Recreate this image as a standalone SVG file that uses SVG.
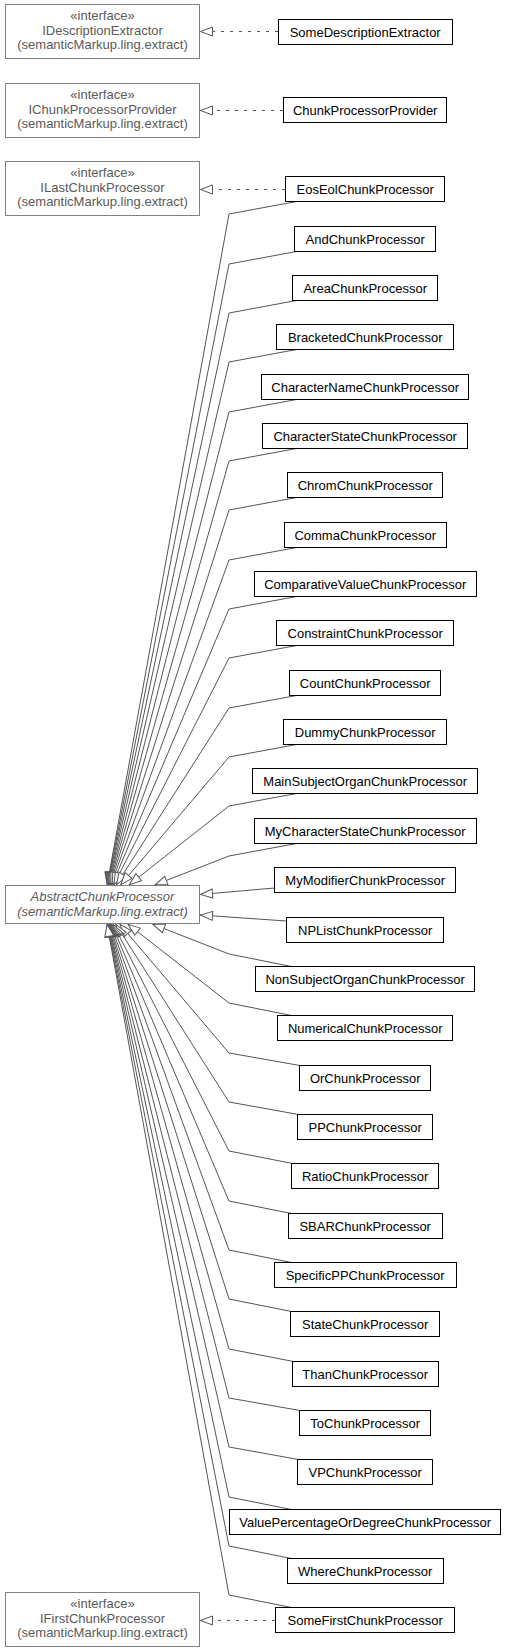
<svg xmlns="http://www.w3.org/2000/svg" width="507" height="1652" viewBox="0 0 507 1652">
<style>
.bg{fill:#ffffff}
.cls rect{fill:#ffffff;stroke:#000000;stroke-width:1}
.cls text{font-family:"Liberation Sans",Arial,sans-serif;font-size:13px;fill:#000000;text-anchor:middle}
.ifc rect{fill:#ffffff;stroke:#808080;stroke-width:1}
.ifc text{font-family:"Liberation Sans",Arial,sans-serif;font-size:13px;fill:#5a5a5a;text-anchor:middle}
.ifc text.it{font-style:italic}
.gen{fill:none;stroke:#555555;stroke-width:1;marker-end:url(#tri)}
.real{fill:none;stroke:#555555;stroke-width:1;stroke-dasharray:3,6;marker-end:url(#tri)}
</style>
<defs>
<marker id="tri" viewBox="0 0 13 10" refX="13" refY="5" markerWidth="13" markerHeight="10" markerUnits="userSpaceOnUse" orient="auto" overflow="visible">
<path d="M0.5,0.5 L12.5,5 L0.5,9.5 Z" fill="#ffffff" stroke="#555555" stroke-width="1"/>
</marker>
</defs>
<rect class="bg" x="0" y="0" width="507" height="1652"/>

<g id="connectors">
<path class="real" d="M278,31.5 L200,31.5"/>
<path class="real" d="M283,110.5 L200,110.5"/>
<path class="real" d="M285,189.5 L200,189.5"/>
<path class="real" d="M275,1620.5 L200,1620.5"/>

<path class="gen" d="M296.5,201.5 L229,214 L107.1,885"/>
<path class="gen" d="M296.5,251.5 L229,264 L107.4,885"/>
<path class="gen" d="M296.5,300.5 L229,313 L107.7,885"/>
<path class="gen" d="M296.5,349.5 L229,362 L108.1,885"/>
<path class="gen" d="M296.5,399.5 L229,412 L108.6,885"/>
<path class="gen" d="M296.5,448.5 L229,461 L109.2,885"/>
<path class="gen" d="M296.5,497.5 L229,510 L109.9,885"/>
<path class="gen" d="M296.5,547.5 L229,560 L110.8,885"/>
<path class="gen" d="M296.5,596.5 L229,609 L112,885"/>
<path class="gen" d="M296.5,645.5 L229,658 L113.7,885"/>
<path class="gen" d="M296.5,695.5 L229,708 L116.2,885"/>
<path class="gen" d="M296.5,744.5 L229,757 L120.5,885"/>
<path class="gen" d="M296.5,793.5 L229,806 L128.9,885"/>
<path class="gen" d="M296.5,843.5 L229,856 L154.7,885"/>
<path class="gen" d="M274.5,888 L200,894.5"/>
<path class="gen" d="M286.5,921 L200,915"/>
<path class="gen" d="M291.5,966.5 L229,954 L152.3,924"/>
<path class="gen" d="M291.5,1015.5 L229,1003 L127.7,924"/>
<path class="gen" d="M300,1065.5 L229,1053 L119.7,924"/>
<path class="gen" d="M298.5,1114.5 L229,1102 L115.6,924"/>
<path class="gen" d="M292.5,1163.5 L229,1151 L113.2,924"/>
<path class="gen" d="M291.5,1213.5 L229,1201 L111.6,924"/>
<path class="gen" d="M291.5,1262.5 L229,1250 L110.4,924"/>
<path class="gen" d="M291.5,1311.5 L229,1299 L109.5,924"/>
<path class="gen" d="M293.5,1361.5 L229,1349 L108.9,924"/>
<path class="gen" d="M300,1410.5 L229,1398 L108.3,924"/>
<path class="gen" d="M298.5,1459.5 L229,1447 L107.9,924"/>
<path class="gen" d="M291.5,1509.5 L229,1497 L107.5,924"/>
<path class="gen" d="M291.5,1558.5 L229,1546 L107.2,924"/>
<path class="gen" d="M291.5,1607.5 L229,1595 L107,924"/>
</g>

<g id="IDescriptionExtractor" class="ifc"><rect x="5.5" y="4.5" width="194" height="54"/><text x="102.5" y="20">«interface»</text><text x="102.5" y="34.5">IDescriptionExtractor</text><text x="102.5" y="49">(semanticMarkup.ling.extract)</text></g>
<g id="IChunkProcessorProvider" class="ifc"><rect x="5.5" y="83.5" width="194" height="54"/><text x="102.5" y="99">«interface»</text><text x="102.5" y="113.5">IChunkProcessorProvider</text><text x="102.5" y="128">(semanticMarkup.ling.extract)</text></g>
<g id="ILastChunkProcessor" class="ifc"><rect x="5.5" y="161.5" width="194" height="54"/><text x="102.5" y="177">«interface»</text><text x="102.5" y="191.5">ILastChunkProcessor</text><text x="102.5" y="206">(semanticMarkup.ling.extract)</text></g>
<g id="AbstractChunkProcessor" class="ifc"><rect x="5.5" y="885.5" width="194" height="38"/><text class="it" x="102.5" y="901">AbstractChunkProcessor</text><text class="it" x="102.5" y="915.5">(semanticMarkup.ling.extract)</text></g>
<g id="IFirstChunkProcessor" class="ifc"><rect x="5.5" y="1592.5" width="194" height="54"/><text x="102.5" y="1608">«interface»</text><text x="102.5" y="1622.5">IFirstChunkProcessor</text><text x="102.5" y="1637">(semanticMarkup.ling.extract)</text></g>

<g id="SomeDescriptionExtractor" class="cls"><rect x="278.5" y="19.5" width="174" height="25"/><text x="365.2" y="36.5">SomeDescriptionExtractor</text></g>
<g id="ChunkProcessorProvider" class="cls"><rect x="283.5" y="97.5" width="163" height="25"/><text x="365.2" y="114.5">ChunkProcessorProvider</text></g>
<g id="EosEolChunkProcessor" class="cls"><rect x="285.5" y="176.5" width="159" height="25"/><text x="365.2" y="193.5">EosEolChunkProcessor</text></g>
<g id="AndChunkProcessor" class="cls"><rect x="294.5" y="226.5" width="141" height="25"/><text x="365.2" y="243.5">AndChunkProcessor</text></g>
<g id="AreaChunkProcessor" class="cls"><rect x="292.5" y="275.5" width="145" height="25"/><text x="365.2" y="292.5">AreaChunkProcessor</text></g>
<g id="BracketedChunkProcessor" class="cls"><rect x="276.5" y="324.5" width="177" height="25"/><text x="365.2" y="341.5">BracketedChunkProcessor</text></g>
<g id="CharacterNameChunkProcessor" class="cls"><rect x="261.5" y="374.5" width="207" height="25"/><text x="365.2" y="391.5">CharacterNameChunkProcessor</text></g>
<g id="CharacterStateChunkProcessor" class="cls"><rect x="262.5" y="423.5" width="205" height="25"/><text x="365.2" y="440.5">CharacterStateChunkProcessor</text></g>
<g id="ChromChunkProcessor" class="cls"><rect x="287.5" y="472.5" width="155" height="25"/><text x="365.2" y="489.5">ChromChunkProcessor</text></g>
<g id="CommaChunkProcessor" class="cls"><rect x="284.5" y="522.5" width="162" height="25"/><text x="365.2" y="539.5">CommaChunkProcessor</text></g>
<g id="ComparativeValueChunkProcessor" class="cls"><rect x="254.5" y="571.5" width="222" height="25"/><text x="365.2" y="588.5">ComparativeValueChunkProcessor</text></g>
<g id="ConstraintChunkProcessor" class="cls"><rect x="276.5" y="620.5" width="177" height="25"/><text x="365.2" y="637.5">ConstraintChunkProcessor</text></g>
<g id="CountChunkProcessor" class="cls"><rect x="289.5" y="670.5" width="151" height="25"/><text x="365.2" y="687.5">CountChunkProcessor</text></g>
<g id="DummyChunkProcessor" class="cls"><rect x="283.5" y="719.5" width="163" height="25"/><text x="365.2" y="736.5">DummyChunkProcessor</text></g>
<g id="MainSubjectOrganChunkProcessor" class="cls"><rect x="252.5" y="768.5" width="225" height="25"/><text x="365.2" y="785.5">MainSubjectOrganChunkProcessor</text></g>
<g id="MyCharacterStateChunkProcessor" class="cls"><rect x="254.5" y="818.5" width="222" height="25"/><text x="365.2" y="835.5">MyCharacterStateChunkProcessor</text></g>
<g id="MyModifierChunkProcessor" class="cls"><rect x="274.5" y="867.5" width="181" height="25"/><text x="365.2" y="884.5">MyModifierChunkProcessor</text></g>
<g id="NPListChunkProcessor" class="cls"><rect x="286.5" y="917.5" width="157" height="25"/><text x="365.2" y="934.5">NPListChunkProcessor</text></g>
<g id="NonSubjectOrganChunkProcessor" class="cls"><rect x="255.5" y="966.5" width="219" height="25"/><text x="365.2" y="983.5">NonSubjectOrganChunkProcessor</text></g>
<g id="NumericalChunkProcessor" class="cls"><rect x="277.5" y="1015.5" width="175" height="25"/><text x="365.2" y="1032.5">NumericalChunkProcessor</text></g>
<g id="OrChunkProcessor" class="cls"><rect x="299.5" y="1065.5" width="131" height="25"/><text x="365.2" y="1082.5">OrChunkProcessor</text></g>
<g id="PPChunkProcessor" class="cls"><rect x="297.5" y="1114.5" width="135" height="25"/><text x="365.2" y="1131.5">PPChunkProcessor</text></g>
<g id="RatioChunkProcessor" class="cls"><rect x="291.5" y="1163.5" width="147" height="25"/><text x="365.2" y="1180.5">RatioChunkProcessor</text></g>
<g id="SBARChunkProcessor" class="cls"><rect x="288.5" y="1213.5" width="154" height="25"/><text x="365.2" y="1230.5">SBARChunkProcessor</text></g>
<g id="SpecificPPChunkProcessor" class="cls"><rect x="274.5" y="1262.5" width="182" height="25"/><text x="365.2" y="1279.5">SpecificPPChunkProcessor</text></g>
<g id="StateChunkProcessor" class="cls"><rect x="290.5" y="1311.5" width="149" height="25"/><text x="365.2" y="1328.5">StateChunkProcessor</text></g>
<g id="ThanChunkProcessor" class="cls"><rect x="292.5" y="1361.5" width="146" height="25"/><text x="365.2" y="1378.5">ThanChunkProcessor</text></g>
<g id="ToChunkProcessor" class="cls"><rect x="299.5" y="1410.5" width="131" height="25"/><text x="365.2" y="1427.5">ToChunkProcessor</text></g>
<g id="VPChunkProcessor" class="cls"><rect x="297.5" y="1459.5" width="135" height="25"/><text x="365.2" y="1476.5">VPChunkProcessor</text></g>
<g id="ValuePercentageOrDegreeChunkProcessor" class="cls"><rect x="229.5" y="1509.5" width="271" height="25"/><text x="365.2" y="1526.5">ValuePercentageOrDegreeChunkProcessor</text></g>
<g id="WhereChunkProcessor" class="cls"><rect x="287.5" y="1558.5" width="156" height="25"/><text x="365.2" y="1575.5">WhereChunkProcessor</text></g>
<g id="SomeFirstChunkProcessor" class="cls"><rect x="275.5" y="1607.5" width="179" height="25"/><text x="365.2" y="1624.5">SomeFirstChunkProcessor</text></g>
</svg>
